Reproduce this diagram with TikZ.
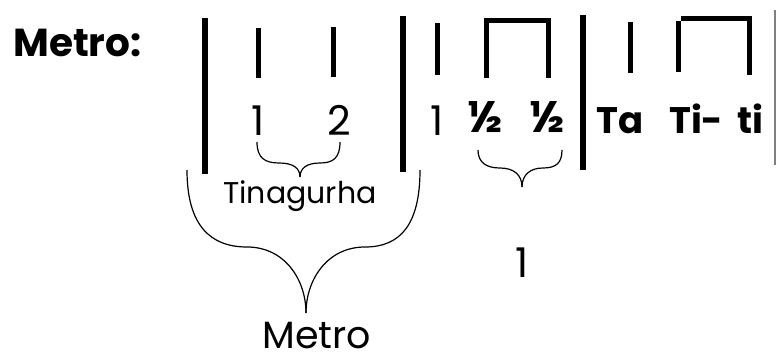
\documentclass[tikz,border=0pt]{standalone}
\usepackage{fontspec}
\setmainfont{Poppins}
\begin{document}
\begin{tikzpicture}[x=1pt,y=-1pt,
    bigbar/.style={line width=6pt},
    smallbar/.style={line width=5pt},
    curly/.style={line width=1.2pt},
    bold/.style={font=\fontsize{39}{39}\selectfont\bfseries},
    plain/.style={font=\fontsize{41}{41}\selectfont}]
        \useasboundingbox (0, 0) rectangle (776, 356);

        \node[bold, anchor=base west, inner sep=0] (title) at (13, 56){Metro:};

        % bar lines
        \draw[bigbar](205, 18) to (205, 174);
        \draw[bigbar](403, 16) to (403, 172);
        \draw[bigbar](583, 15) to (583, 170);
        \draw[gray, line width=1.5pt](775, 10) to (775, 165);

        % first measure
            \draw[smallbar](258, 28) to (258, 78);
            \draw[smallbar](333, 27) to (333, 77);
        \node[plain, anchor=base, inner sep=0] (one) at (258, 135){1};
        \node[plain, anchor=base, inner sep=0] (two) at (339, 135){2};

        % second measure
            \draw[smallbar](437, 23) to (437, 75);
            \draw[smallbar, line cap=rect] (486, 75) -- (486, 20) -- (548, 20) -- (548, 75);
        \node[plain, anchor=base, inner sep=0] (uno) at (437, 135){1};
        \node[bold, font=\fontsize{44}{44}\selectfont\bfseries, anchor=base, inner sep=0] (halfa) at (486, 132){½};
        \node[bold, font=\fontsize{44}{44}\selectfont\bfseries, anchor=base, inner sep=0] (halfb) at (548, 132){½};

        % third measure
            \draw[smallbar](630, 22) to (630, 73);
            \draw[smallbar](678, 21) to (678, 72);
            \draw[smallbar, line cap=rect] (683, 18) -- (749, 18) -- (749, 72);
        \node[bold, font=\fontsize{37}{37}\selectfont\bfseries, anchor=base west, inner sep=0] (ta) at (596, 133){Ta};
        \node[bold, font=\fontsize{37}{37}\selectfont\bfseries, anchor=base west, inner sep=0] (ti) at (669, 133){Ti-};
        \node[bold, font=\fontsize{37}{37}\selectfont\bfseries, anchor=base west, inner sep=0] (tti) at (737, 133){ti};

        % braces
        \draw[curly] (257, 142) .. controls (257, 158) and (265, 163) .. (279, 163)
            .. controls (293, 163) and (300, 168) .. (300, 177);
        \draw[curly] (340, 142) .. controls (340, 158) and (333, 163) .. (320, 163)
            .. controls (307, 163) and (300, 168) .. (300, 177);
        \node[font=\fontsize{30}{30}\selectfont, anchor=base, inner sep=0] (tina) at (300, 203){Tinagurha};

        \draw[curly] (478, 150) .. controls (478, 163) and (487, 168) .. (500, 168)
            .. controls (514, 168) and (522, 175) .. (522, 187);
        \draw[curly] (562, 150) .. controls (562, 163) and (556, 168) .. (543, 168)
            .. controls (530, 168) and (522, 175) .. (522, 187);
        \node[plain, anchor=base, inner sep=0] (sum) at (522, 277){1};

        \draw[curly] (187, 170) .. controls (187, 225) and (210, 247) .. (247, 247)
            .. controls (285, 247) and (306, 280) .. (306, 313);
        \draw[curly] (420, 170) .. controls (420, 225) and (400, 247) .. (365, 247)
            .. controls (327, 247) and (306, 280) .. (306, 313);
        \node[font=\fontsize{38}{38}\selectfont, anchor=base, inner sep=0] (metro) at (317, 348){Metro};
    \end{tikzpicture}
\end{document}
